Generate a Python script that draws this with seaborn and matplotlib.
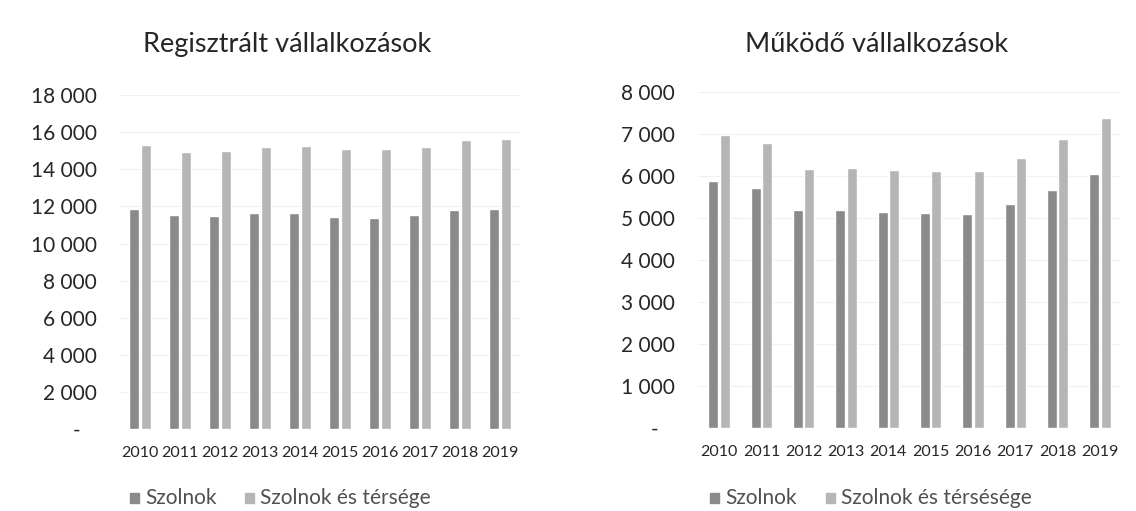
import numpy as np
import matplotlib
matplotlib.use("Agg")
import matplotlib.pyplot as plt
import matplotlib.ticker as mticker
import seaborn as sns
import pandas as pd

years = ["2010", "2011", "2012", "2013", "2014", "2015", "2016", "2017", "2018", "2019"]

# Regisztrált vállalkozások
reg_szolnok = [11850, 11550, 11480, 11630, 11640, 11430, 11400, 11540, 11800, 11850]
reg_terseg = [15300, 14930, 14990, 15200, 15260, 15080, 15080, 15200, 15570, 15630]

# Működő vállalkozások
muk_szolnok = [5880, 5710, 5190, 5190, 5150, 5120, 5090, 5330, 5670, 6050]
muk_terseg = [6970, 6790, 6170, 6190, 6150, 6130, 6130, 6430, 6880, 7380]

sns.set_style("white")
plt.rcParams["font.family"] = ["Lato", "DejaVu Sans"]

dark = "#8a8a8a"
light = "#b5b5b5"
txt = "#262626"


def fmt(v, pos):
    if v == 0:
        return "-   "
    return f"{int(v):,}".replace(",", " ")


def draw(ax, sz, tr, hue_names, ymax, step, w):
    df = pd.DataFrame({
        "ev": years * 2,
        "ertek": sz + tr,
        "sor": [hue_names[0]] * len(years) + [hue_names[1]] * len(years),
    })
    sns.barplot(data=df, x="ev", y="ertek", hue="sor", ax=ax,
                palette=[dark, light], width=w, gap=0.12, legend=False)
    ax.set_xlim(-0.5, 9.5)
    ax.set_ylim(0, ymax)
    ax.set_yticks(np.arange(0, ymax + 1, step))
    ax.yaxis.set_major_formatter(mticker.FuncFormatter(fmt))
    ax.grid(axis="y", color="#f0f0f0", lw=0.8)
    ax.set_axisbelow(True)
    ax.set_xlabel("")
    ax.set_ylabel("")
    sns.despine(ax=ax, left=True, bottom=True)
    ax.tick_params(axis="y", length=0, pad=16.5, labelsize=15, labelcolor=txt)
    ax.tick_params(axis="x", length=0, pad=12, labelsize=11.5, labelcolor=txt)


fig = plt.figure(figsize=(11.36, 5.11), dpi=100)
ax1 = fig.add_axes([120 / 1136, 0.160, 400 / 1136, 0.654])
ax2 = fig.add_axes([698 / 1136, 0.162, 423 / 1136, 0.658])

draw(ax1, reg_szolnok, reg_terseg, ["Szolnok", "Szolnok és térsége"], 18000, 2000, 0.56)
draw(ax2, muk_szolnok, muk_terseg, ["Szolnok", "Szolnok és térsésége"], 8000, 1000, 0.54)

fig.text(287 / 1136, 0.912, "Regisztrált vállalkozások", ha="center", va="center",
         fontsize=19.5, color=txt)
fig.text(877 / 1136, 0.912, "Működő vállalkozások", ha="center", va="center",
         fontsize=19.5, color=txt)


# legends
def legend(x0, x1, label2):
    y = 1 - 498 / 511
    fig.patches.append(plt.Rectangle((x0 / 1136, y - 0.009), 9 / 1136, 0.018,
                                     transform=fig.transFigure, color=dark))
    fig.text((x0 + 15) / 1136, y, "Szolnok", va="center", fontsize=15, color="#505050")
    fig.patches.append(plt.Rectangle((x1 / 1136, y - 0.009), 9 / 1136, 0.018,
                                     transform=fig.transFigure, color=light))
    fig.text((x1 + 15) / 1136, y, label2, va="center", fontsize=15, color="#505050")


legend(130, 245, "Szolnok és térsége")
legend(710, 826, "Szolnok és térsésége")

fig.savefig("out.png", dpi=100)
